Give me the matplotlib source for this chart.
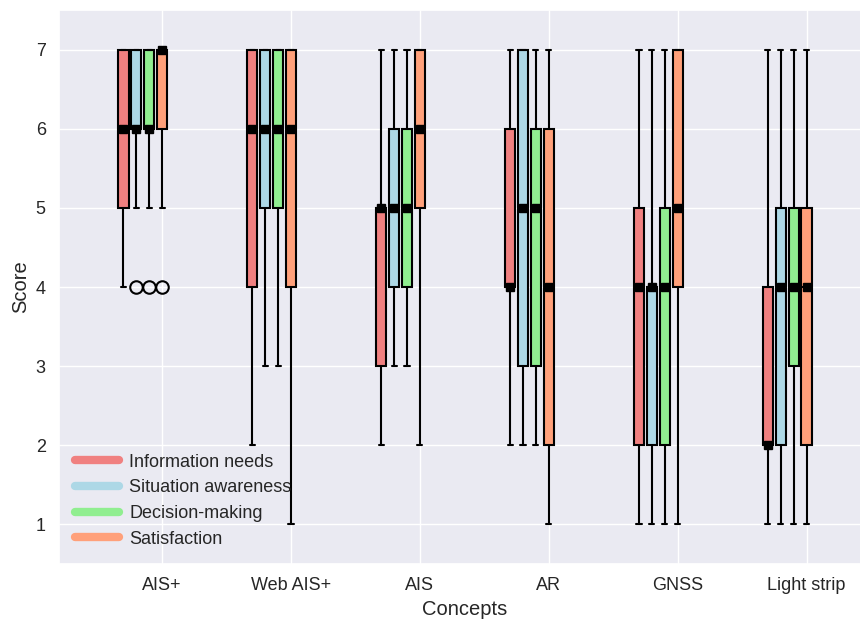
import matplotlib
matplotlib.use("Agg")
import matplotlib.pyplot as plt
import seaborn as sns
from matplotlib.lines import Line2D

sns.set_theme(style="darkgrid")
plt.rcParams["font.family"] = ["Liberation Sans", "DejaVu Sans"]

concepts = ["AIS+", "Web AIS+", "AIS", "AR", "GNSS", "Light strip"]
measures = ["Information needs", "Situation awareness", "Decision-making", "Satisfaction"]
colors = ["#F08080", "#ADD8E6", "#90EE90", "#FFA07A"]

# Box summaries for each measure, one value per concept
info_low = [4, 2, 2, 2, 1, 1]
info_q1 = [5, 4, 3, 4, 2, 2]
info_med = [6, 6, 5, 4, 4, 2]
info_q3 = [7, 7, 5, 6, 5, 4]
info_high = [7, 7, 7, 7, 7, 7]
info_out = [[], [], [], [], [], []]

sa_low = [5, 3, 3, 2, 1, 1]
sa_q1 = [6, 5, 4, 3, 2, 2]
sa_med = [6, 6, 5, 5, 4, 4]
sa_q3 = [7, 7, 6, 7, 4, 5]
sa_high = [7, 7, 7, 7, 7, 7]
sa_out = [[4], [], [], [], [], []]

dm_low = [5, 3, 3, 2, 1, 1]
dm_q1 = [6, 5, 4, 3, 2, 3]
dm_med = [6, 6, 5, 5, 4, 4]
dm_q3 = [7, 7, 6, 6, 5, 5]
dm_high = [7, 7, 7, 7, 7, 7]
dm_out = [[4], [], [], [], [], []]

sat_low = [5, 1, 2, 1, 1, 1]
sat_q1 = [6, 4, 5, 2, 4, 2]
sat_med = [7, 6, 6, 4, 5, 4]
sat_q3 = [7, 7, 7, 6, 7, 5]
sat_high = [7, 7, 7, 7, 7, 7]
sat_out = [[4], [], [], [], [], []]

series = [
    (info_low, info_q1, info_med, info_q3, info_high, info_out),
    (sa_low, sa_q1, sa_med, sa_q3, sa_high, sa_out),
    (dm_low, dm_q1, dm_med, dm_q3, dm_high, dm_out),
    (sat_low, sat_q1, sat_med, sat_q3, sat_high, sat_out),
]
offsets = [-0.3, -0.2, -0.1, 0.0]

fig = plt.figure(figsize=(8.6, 6.19), dpi=100)
ax = fig.add_axes([59 / 860, 55 / 619, 812 / 860, 554 / 619])

base = list(range(1, len(concepts) + 1))
for (lo, q1, med, q3, hi, out), off, col in zip(series, offsets, colors):
    stats = [
        dict(whislo=lo[i], q1=q1[i], med=med[i], q3=q3[i], whishi=hi[i], fliers=out[i])
        for i in range(len(concepts))
    ]
    pos = [b + off for b in base]
    ax.bxp(
        stats,
        positions=pos,
        widths=0.08,
        patch_artist=True,
        manage_ticks=False,
        boxprops=dict(facecolor=col, edgecolor="black", linewidth=1.5),
        whiskerprops=dict(color="black", linewidth=1.5),
        capprops=dict(color="black", linewidth=1.5),
        medianprops=dict(color="black", linewidth=1.5),
        flierprops=dict(marker="o", markerfacecolor="none", markeredgecolor="black",
                        markersize=9, markeredgewidth=1.5),
    )
    ax.plot(pos, med, "s", color="black", markersize=5.5, zorder=5)

ax.set_xticks(base)
ax.set_xticklabels(concepts)
ax.set_yticks(range(1, 8))
ax.set_xlim(0.2, 6.5)
ax.set_ylim(0.5, 7.5)
ax.tick_params(axis="both", labelsize=13)
ax.set_xlabel("Concepts", fontsize=14.5)
ax.set_ylabel("Score", fontsize=14.5)

handles = [Line2D([0], [0], color=c, lw=6, solid_capstyle="round") for c in colors]
ax.legend(handles, measures, loc="lower left", frameon=False, fontsize=13,
          handlelength=2.4, handletextpad=0.6, labelspacing=0.48)

fig.savefig("out.png", dpi=100)
